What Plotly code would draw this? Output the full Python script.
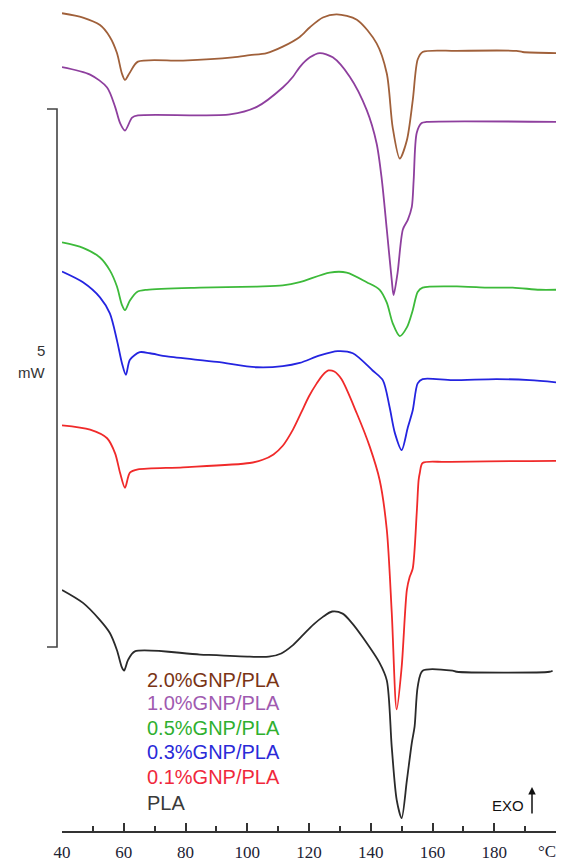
import plotly.graph_objects as go

# Temperature (°C) and heat flow (mW, stacked offsets as in the figure)
T_20 = [40, 46.8, 52.3, 55.5, 57.8, 59.4, 60.4, 62.0, 64.6, 79.2, 95.3, 100.8, 106.3, 111.5, 117.0, 120.3, 124.5, 129.0, 135.5, 141.9, 145.2, 147.1, 149.4, 151.7, 153.6, 155.2, 156.8, 167.8, 187.2, 189.2, 200]
Q_20 = [7.60, 7.56, 7.49, 7.38, 7.23, 7.04, 6.98, 7.05, 7.15, 7.16, 7.19, 7.21, 7.23, 7.29, 7.38, 7.47, 7.56, 7.59, 7.54, 7.32, 7.04, 6.54, 6.25, 6.42, 6.79, 7.17, 7.24, 7.25, 7.25, 7.24, 7.23]

T_10 = [40, 49.1, 54.6, 57.2, 58.8, 60.4, 62.7, 64.6, 94.4, 103.1, 111.5, 114.8, 117.0, 120.3, 123.5, 127.7, 133.2, 138.7, 141.9, 143.6, 145.2, 146.8, 147.4, 148.7, 150.4, 152.0, 153.3, 153.9, 154.9, 156.5, 158.1, 200]
Q_10 = [7.10, 7.03, 6.91, 6.73, 6.58, 6.51, 6.63, 6.65, 6.66, 6.73, 6.91, 7.01, 7.10, 7.19, 7.23, 7.19, 7.01, 6.70, 6.39, 6.05, 5.59, 5.12, 4.98, 5.19, 5.59, 5.68, 5.80, 6.05, 6.49, 6.58, 6.59, 6.59]

T_05 = [40, 46.8, 52.3, 55.5, 57.8, 59.4, 60.4, 62.0, 64.3, 67.5, 84.7, 103.1, 111.5, 117.0, 126.7, 132.2, 138.7, 142.9, 145.2, 147.1, 149.4, 151.7, 153.6, 155.2, 156.8, 169.8, 177.5, 186.0, 194.7, 200]
Q_05 = [5.47, 5.42, 5.33, 5.21, 5.06, 4.89, 4.84, 4.93, 5.01, 5.03, 5.05, 5.06, 5.07, 5.10, 5.19, 5.19, 5.10, 5.03, 4.91, 4.72, 4.60, 4.68, 4.84, 5.01, 5.05, 5.06, 5.05, 5.05, 5.03, 5.03]

T_03 = [40, 46.8, 52.3, 55.5, 57.8, 59.4, 60.7, 62.0, 65.2, 68.5, 74.0, 90.2, 103.1, 111.5, 117.0, 123.5, 129.3, 134.2, 140.6, 143.9, 146.1, 147.8, 150.0, 152.0, 153.6, 155.2, 156.8, 166.5, 180.8, 191.5, 200]
Q_03 = [5.20, 5.10, 4.96, 4.81, 4.56, 4.35, 4.24, 4.38, 4.45, 4.44, 4.41, 4.36, 4.31, 4.32, 4.35, 4.42, 4.46, 4.44, 4.28, 4.19, 3.94, 3.70, 3.54, 3.75, 3.91, 4.16, 4.20, 4.19, 4.20, 4.19, 4.17]

T_01 = [40, 49.1, 54.6, 57.2, 58.8, 60.4, 62.0, 64.6, 79.2, 100.8, 105.0, 108.5, 111.5, 114.8, 117.5, 120.0, 122.5, 124.5, 126.3, 128.2, 130.5, 135.5, 139.7, 142.9, 145.2, 146.8, 148.4, 150.0, 151.7, 152.6, 153.6, 154.9, 155.5, 155.9, 156.8, 164.6, 200]
Q_01 = [3.77, 3.73, 3.65, 3.51, 3.33, 3.19, 3.33, 3.36, 3.38, 3.42, 3.45, 3.50, 3.58, 3.73, 3.89, 4.04, 4.16, 4.24, 4.28, 4.27, 4.20, 3.88, 3.57, 3.26, 2.80, 2.03, 1.13, 1.52, 2.24, 2.36, 2.44, 2.96, 3.26, 3.33, 3.42, 3.43, 3.44]

T_00 = [40, 46.8, 52.3, 55.5, 57.8, 59.4, 60.1, 61.4, 63.6, 84.7, 100.8, 107.0, 111.0, 114.5, 118.0, 121.5, 124.5, 127.5, 130.9, 134.0, 137.4, 142.9, 145.2, 146.8, 148.4, 150.0, 151.7, 153.3, 154.2, 155.2, 156.8, 166.5, 167.8, 197.9, 198.9]
Q_00 = [2.24, 2.12, 1.96, 1.84, 1.68, 1.52, 1.49, 1.59, 1.67, 1.64, 1.62, 1.62, 1.65, 1.72, 1.82, 1.92, 1.99, 2.04, 2.02, 1.93, 1.80, 1.56, 1.40, 0.78, 0.29, 0.12, 0.47, 0.82, 0.97, 1.34, 1.49, 1.49, 1.48, 1.48, 1.49]

names = ["2.0%GNP/PLA", "1.0%GNP/PLA", "0.5%GNP/PLA", "0.3%GNP/PLA", "0.1%GNP/PLA", "PLA"]
line_colors = ["#a0603a", "#8e3f9e", "#3dba3a", "#2424e0", "#f02a2a", "#2a2a2a"]
text_colors = ["#7a3415", "#a05ab0", "#2fb02f", "#2a2ad8", "#f0283c", "#3a3a3a"]
series = [(T_20, Q_20), (T_10, Q_10), (T_05, Q_05), (T_03, Q_03), (T_01, Q_01), (T_00, Q_00)]

x_ticks = [40, 60, 80, 100, 120, 140, 160, 180, 200]
x_ticktext = ["40", "60", "80", "100", "120", "140", "160", "180", ""]
x_unit = "°C"
scale_bar_mW = 5
scale_bottom = 1.71

W, H = 561, 863
L, R, TOP, B = 62, 5, 0, 32
pw, ph = W - L - R, H - TOP - B
Y_MAX = ph / 107.6

def px(x):
    return (x - L) / pw

def py(y):
    return (H - B - y) / ph

fig = go.Figure()
for (t, q), nm, c in zip(series, names, line_colors):
    fig.add_trace(go.Scatter(x=t, y=q, mode="lines", name=nm,
                             line=dict(color=c, width=1.8, shape="spline", smoothing=0.8),
                             showlegend=False, hoverinfo="skip"))

# scale bar bracket
fig.add_shape(type="path", xref="paper", yref="y",
              path=f"M {px(47)} {scale_bottom + scale_bar_mW} L {px(57)} {scale_bottom + scale_bar_mW} "
                   f"L {px(57)} {scale_bottom} L {px(47)} {scale_bottom}",
              line=dict(color="#444444", width=1.6))

anns = []
anns.append(dict(x=px(47), y=py(350), xref="paper", yref="paper", text="5", showarrow=False,
                 xanchor="right", yanchor="middle", font=dict(family="Liberation Sans", size=15, color="#333333")))
anns.append(dict(x=px(47), y=py(372), xref="paper", yref="paper", text="mW", showarrow=False,
                 xanchor="right", yanchor="middle", font=dict(family="Liberation Sans", size=15, color="#333333")))

legend_y = [680, 703, 728, 752, 777, 803]
for nm, c, yy in zip(names, text_colors, legend_y):
    anns.append(dict(x=px(145), y=py(yy), xref="paper", yref="paper", text=nm, showarrow=False,
                     xanchor="left", yanchor="middle",
                     font=dict(family="Liberation Sans", size=20, color=c)))

anns.append(dict(x=px(508), y=py(805), xref="paper", yref="paper", text="EXO", showarrow=False,
                 xanchor="center", yanchor="middle", font=dict(family="Liberation Sans", size=15, color="#111111")))
anns.append(dict(x=px(532), y=py(787), xref="paper", yref="paper", text="", showarrow=True,
                 ax=0, ay=28, arrowhead=2, arrowsize=1, arrowwidth=1.5, arrowcolor="#111111"))
# unit label at the end of the temperature axis
anns.append(dict(x=px(558), y=py(852), xref="paper", yref="paper", text=x_unit, showarrow=False,
                 xanchor="right", yanchor="middle",
                 font=dict(family="Liberation Serif", size=17, color="#1c2233")))

fig.update_layout(
    width=W, height=H,
    margin=dict(l=L, r=R, t=TOP, b=B, pad=0, autoexpand=False),
    paper_bgcolor="white", plot_bgcolor="white",
    annotations=anns,
    xaxis=dict(range=[40, 200], showgrid=False, zeroline=False, automargin=False,
               showline=True, linecolor="#333333", linewidth=1.5,
               tickmode="array", tickvals=x_ticks, ticktext=x_ticktext,
               ticks="inside", ticklen=8, tickwidth=1.5, tickcolor="#333333",
               minor=dict(tickmode="linear", tick0=50, dtick=20, ticks="inside", ticklen=5,
                          tickwidth=1.5, tickcolor="#333333", showgrid=False),
               ticklabelstandoff=5, ticklabeloverflow="allow",
               tickfont=dict(family="Liberation Serif", size=17, color="#1c2233")),
    yaxis=dict(range=[0, Y_MAX], visible=False, showgrid=False, zeroline=False, automargin=False),
)

fig.write_html("out.html", config={"displayModeBar": False},
               post_script="document.body.style.margin='0';document.body.style.overflow='hidden';")
